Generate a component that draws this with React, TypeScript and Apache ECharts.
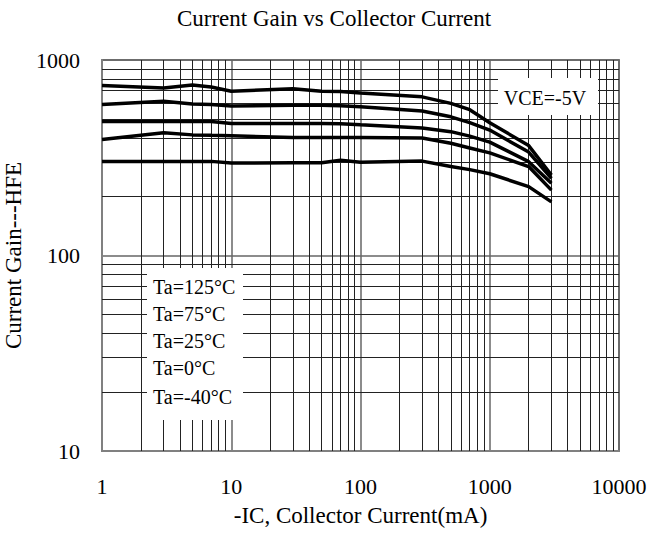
import React, { useEffect, useRef } from "react";
import * as echarts from "echarts";

const titleText = "Current Gain vs Collector Current";
const xAxisName = "-IC, Collector Current(mA)";
const yAxisName = "Current Gain---HFE";
const conditionText = "VCE=-5V";
const seriesNames = ["Ta=125°C", "Ta=75°C", "Ta=25°C", "Ta=0°C", "Ta=-40°C"];

const icValues = [1, 3, 5, 7, 10, 30, 50, 70, 100, 300, 500, 700, 1000, 2000, 3000];
const hfe125 = [740, 720, 745, 728, 692, 712, 692, 690, 678, 648, 600, 557, 478, 365, 258];
const hfe75 = [592, 615, 595, 592, 582, 587, 587, 583, 576, 548, 512, 478, 438, 338, 248];
const hfe25 = [485, 485, 485, 484, 474, 473, 473, 472, 466, 449, 430, 408, 380, 302, 234];
const hfe0 = [392, 424, 414, 412, 410, 401, 401, 401, 401, 399, 375, 355, 335, 285, 216];
const hfeM40 = [303, 303, 303, 303, 297, 298, 298, 307, 300, 304, 285, 275, 262, 225, 188];

const xMin = 1;
const xMax = 10000;
const yMin = 10;
const yMax = 1000;
const xDecades = [1, 10, 100, 1000];
const yDecades = [10, 100];
const minorMultipliers = [2, 3, 4, 5, 6, 7, 8, 9];

const FONT = "'Liberation Serif', 'Times New Roman', serif";

export default function App() {
  const ref = useRef<HTMLDivElement>(null);

  useEffect(() => {
    if (!ref.current) return;
    const chart = echarts.init(ref.current, undefined, { renderer: "svg" });

    const hfeAll = [hfe125, hfe75, hfe25, hfe0, hfeM40];

    const xMinorLines: any[] = [];
    xDecades.forEach((d) =>
      minorMultipliers.forEach((m) => xMinorLines.push({ xAxis: d * m }))
    );
    const yMinorLines: any[] = [];
    yDecades.forEach((d) =>
      minorMultipliers.forEach((m) => yMinorLines.push({ yAxis: d * m }))
    );

    const curveSeries = hfeAll.map((arr, i) => ({
      name: seriesNames[i],
      type: "line",
      z: 5,
      symbol: "none",
      lineStyle: { color: "#000", width: 3.5 },
      data: icValues.map((x, j) => [x, arr[j]]),
    }));

    const gridSeries = {
      name: "grid",
      type: "line",
      z: 1,
      symbol: "none",
      data: [[xMin, yMin]],
      lineStyle: { opacity: 0 },
      markLine: {
        silent: true,
        animation: false,
        symbol: ["none", "none"],
        label: { show: false },
        lineStyle: { color: "#222", width: 1, type: "solid" },
        emphasis: { disabled: true },
        data: [...xMinorLines, ...yMinorLines],
      },
    };

    const legendTexts = seriesNames.map((n, i) => ({
      type: "text",
      z: 101,
      x: 153,
      y: [287, 314, 341, 368, 397][i],
      style: {
        text: n,
        fontSize: 20,
        fontFamily: FONT,
        fill: "#000",
        align: "left",
        verticalAlign: "middle",
        textAlign: "left",
        textVerticalAlign: "middle",
      },
    }));

    const plainNumber = (v: number) => String(Math.round(v));

    chart.setOption({
      animation: false,
      backgroundColor: "#fff",
      grid: {
        left: 102,
        top: 60,
        width: 517,
        height: 391,
        show: true,
        borderColor: "#808080",
        borderWidth: 2,
        containLabel: false,
        outerBoundsMode: "none",
      },
      xAxis: {
        type: "log",
        logBase: 10,
        min: xMin,
        max: xMax,
        name: xAxisName,
        nameLocation: "middle",
        nameGap: 53,
        nameTextStyle: { fontSize: 23, fontFamily: FONT, color: "#000" },
        axisLine: { show: true, lineStyle: { color: "#808080", width: 2 } },
        axisTick: { show: false },
        axisLabel: {
          fontSize: 22,
          fontFamily: FONT,
          color: "#000",
          margin: 24,
          formatter: plainNumber,
        },
        splitLine: { show: true, lineStyle: { color: "#666", width: 1.5 } },
      },
      yAxis: {
        type: "log",
        logBase: 10,
        min: yMin,
        max: yMax,
        name: yAxisName,
        nameLocation: "middle",
        nameGap: 66,
        nameTextStyle: { fontSize: 23, fontFamily: FONT, color: "#000" },
        axisLine: { show: true, lineStyle: { color: "#808080", width: 2 } },
        axisTick: { show: false },
        axisLabel: {
          fontSize: 22,
          fontFamily: FONT,
          color: "#000",
          margin: 22,
          formatter: plainNumber,
        },
        splitLine: { show: true, lineStyle: { color: "#666", width: 1.5 } },
      },
      graphic: [
        {
          type: "text",
          x: 334,
          y: 18,
          style: {
            text: titleText,
            fontSize: 23,
            fontFamily: FONT,
            fill: "#000",
            align: "center",
            verticalAlign: "middle",
            textAlign: "center",
            textVerticalAlign: "middle",
          },
        },
        {
          type: "rect",
          z: 100,
          shape: { x: 498, y: 78, width: 100, height: 37 },
          style: { fill: "#fff" },
        },
        {
          type: "text",
          z: 101,
          x: 545,
          y: 98,
          style: {
            text: conditionText,
            fontSize: 20,
            fontFamily: FONT,
            fill: "#000",
            align: "center",
            verticalAlign: "middle",
            textAlign: "center",
            textVerticalAlign: "middle",
          },
        },
        {
          type: "rect",
          z: 100,
          shape: { x: 147, y: 268, width: 96, height: 152 },
          style: { fill: "#fff" },
        },
        ...legendTexts,
      ],
      series: [gridSeries, ...curveSeries],
    });

    return () => chart.dispose();
  }, []);

  return (
    <div
      ref={ref}
      style={{ position: "fixed", left: 0, top: 0, width: 650, height: 534 }}
    />
  );
}
